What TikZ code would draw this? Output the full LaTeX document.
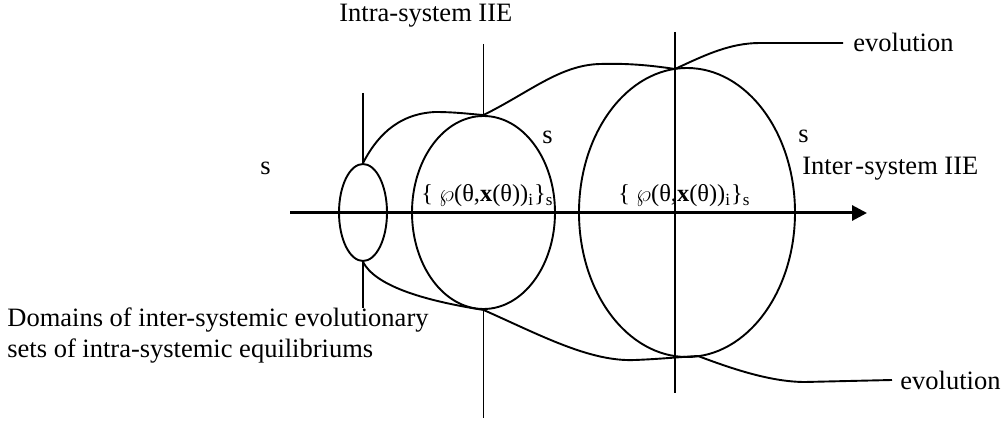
\documentclass[tikz,border=0pt]{standalone}
\usepackage{fontspec}
\setmainfont{Liberation Serif}
\usetikzlibrary{shapes.geometric,arrows.meta}
\newcommand\setexpr{\{ $\wp$(θ,\textbf{x}(θ))\textsubscript{i}\}\textsubscript{s}}
\begin{document}
\begin{tikzpicture}[x=0.5pt,y=-0.5pt,
  line/.style={line width=0.95pt},
  axis/.style={line width=1.5pt},
  lbl/.style={anchor=base west, inner sep=0pt, font=\fontsize{13.25}{15.5}\selectfont},
  setlbl/.style={anchor=base west, inner sep=0pt, font=\fontsize{12.2}{14}\selectfont},
  ring/.style={draw, ellipse, line width=0.95pt, inner sep=0pt}]
\useasboundingbox (0,0) rectangle (1003,432);
% ellipses
\node[ring, minimum width=24pt, minimum height=48.5pt] (e1) at (363,212.5) {};
\node[ring, minimum width=71.5pt, minimum height=96.5pt] (e2) at (483.5,212.5) {};
\node[ring, minimum width=108pt, minimum height=144.5pt] (e3) at (687,212.5) {};
% coordinates
\coordinate (v1top) at (363,93);
\coordinate (v1bot) at (363,308);
\coordinate (v2top) at (483.5,44);
\coordinate (v2bot) at (483.5,418);
\coordinate (v3top) at (675,32);
\coordinate (v3bot) at (675,393);
\coordinate (j3t) at (675,69);
\coordinate (j3b) at (698,356);
\coordinate (evT) at (843,43);
\coordinate (evB) at (892,380);
\coordinate (axL) at (290,213);
\coordinate (axR) at (867,213);
% vertical lines
\draw[line] (v1top) -- (e1.north);
\draw[line] (e1.south) -- (v1bot);
\draw[line] (v2top) -- (e2.north);
\draw[line] (e2.south) -- (v2bot);
\draw[line] (v3top) -- (v3bot);
% axis
\draw[axis,-{Triangle[length=7.5pt,width=7.5pt]}] (axL) -- (axR);
% upper curves
\draw[line] (e1.north) .. controls (375,140) and (395,114) .. (435,112)
  .. controls (455,112) and (470,114) .. (e2.north);
\draw[line] (e2.north) .. controls (530,92) and (560,65) .. (600,64)
  .. controls (630,63) and (655,66) .. (j3t);
\draw[line] (j3t) .. controls (705,55) and (730,43) .. (760,43) -- (evT);
% lower curves
\draw[line] (e1.south) .. controls (375,285) and (420,300) .. (e2.south);
\draw[line] (e2.south) .. controls (540,335) and (590,362) .. (635,360)
  .. controls (660,359) and (680,357) .. (j3b);
\draw[line] (j3b) .. controls (730,368) and (770,382) .. (805,382) -- (evB);
% labels
\node[lbl] (tIntra) at (339,22) {Intra-system IIE};
\node[lbl] (tInter) at (802,175) {Inter\kern1.5pt-system IIE};
\node[lbl] (sL) at (260,175) {s};
\node[lbl] (sM) at (542,144) {s};
\node[lbl] (sR) at (798,143) {s};
\node[setlbl] (setM) at (421,202) {\setexpr};
\node[setlbl] (setR) at (618,202) {\setexpr};
\node[lbl] (evTt) at (853,52) {evolution};
\node[lbl] (evBt) at (900,390) {evolution};
\node[lbl] (dom1) at (7,327) {Domains of inter-systemic evolutionary};
\node[lbl] (dom2) at (7,358) {sets of intra-systemic equilibriums};
\end{tikzpicture}
\end{document}
